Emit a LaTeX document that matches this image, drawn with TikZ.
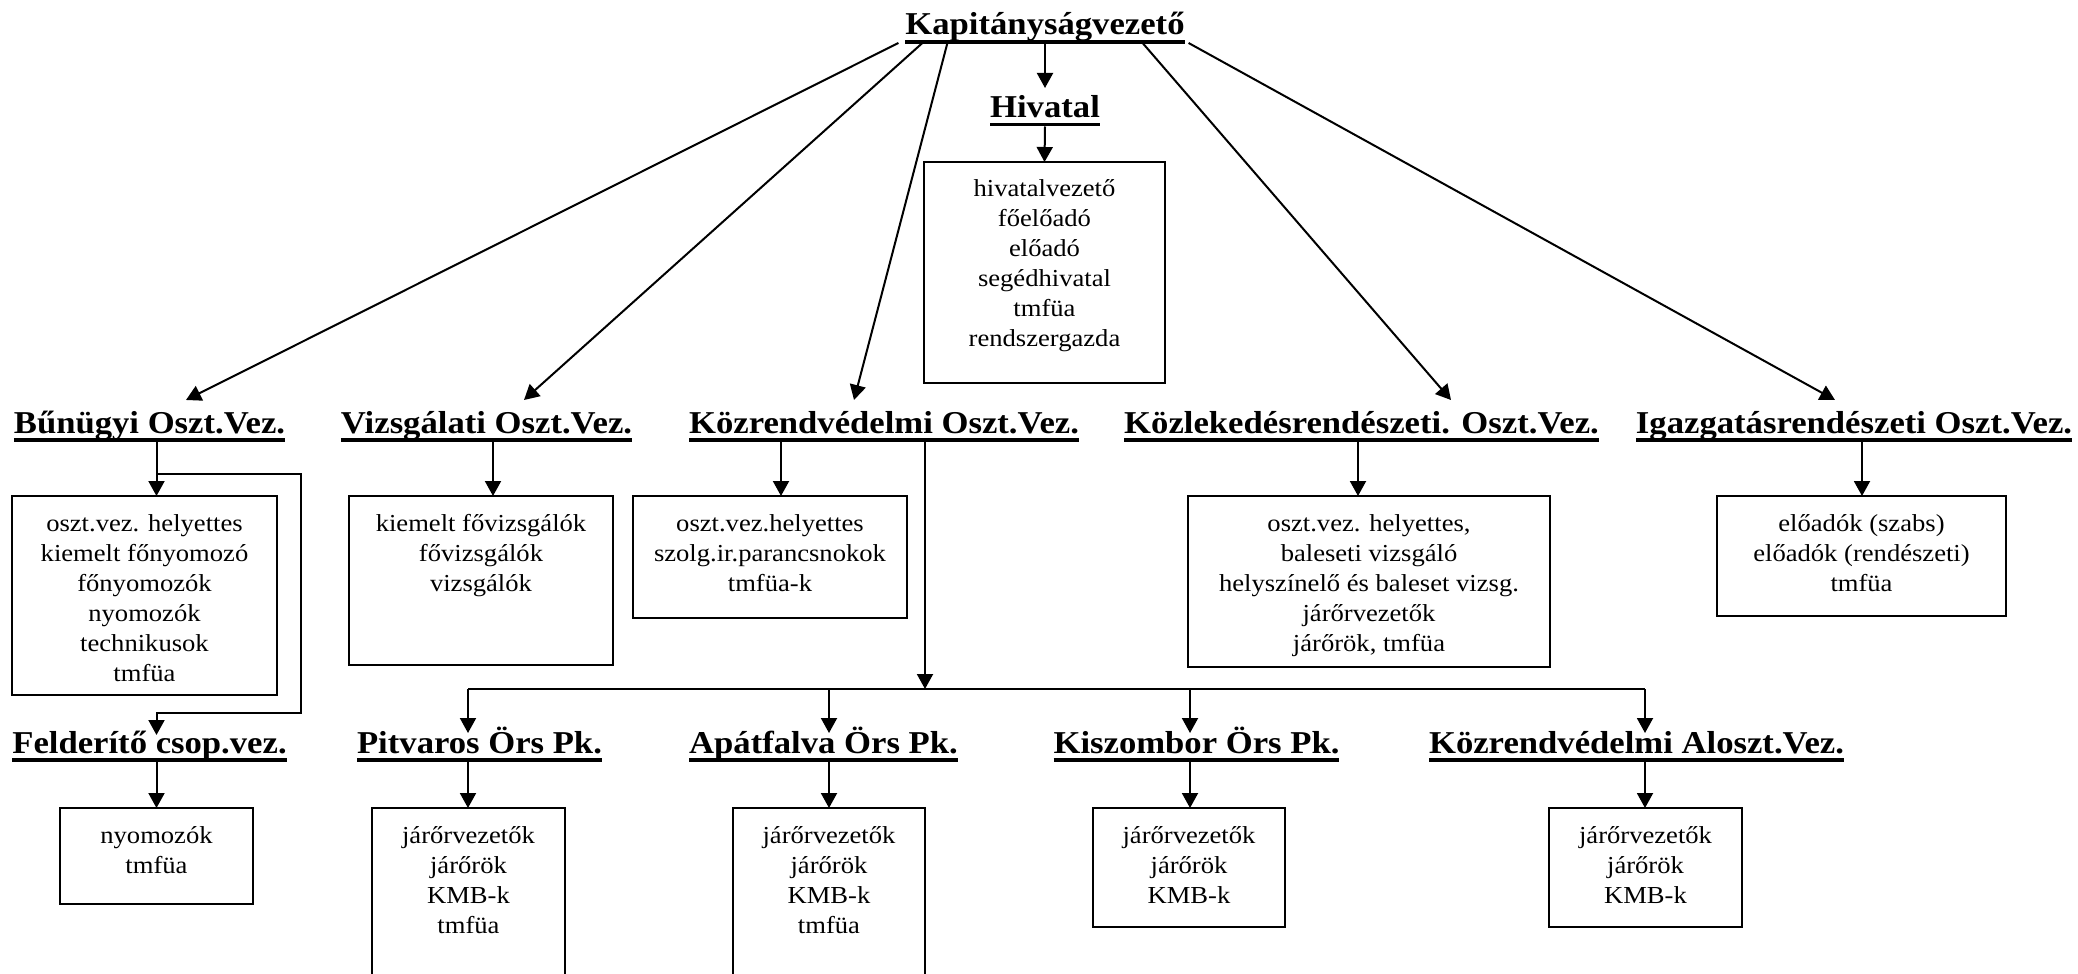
\documentclass[tikz,border=0pt]{standalone}
\usepackage{fontspec}
\usetikzlibrary{arrows.meta,calc,fit}
\newfontfamily\bodyf[FakeStretch=1.09]{Liberation Serif}
\newfontfamily\headf[FakeStretch=1.09]{Liberation Serif}
\tikzset{
  head/.style={font=\headf\bfseries\fontsize{15.9}{18}\selectfont, inner sep=0pt, outer sep=0pt,
               text height=16.5pt, text depth=4.5pt, anchor=base},
  box/.style={draw, line width=1pt, inner sep=0pt, outer sep=0pt},
  txt/.style={inner sep=0pt, outer sep=0pt, anchor=base, font=\bodyf\fontsize{12.2}{15}\selectfont},
  arr/.style={-{Triangle[length=7.5pt,width=8pt]}, line width=1pt},
  con/.style={line width=1pt},
  ul/.style={line width=1.65pt}
}
\begin{document}
\begin{tikzpicture}[x=0.5pt,y=-0.5pt]
\fill[white] (0,0) rectangle (2078,974);
\clip (0,0) rectangle (2078,974);
% headings
\node[head] (kap) at (1045,35) {Kapitányságvezető};
\node[head] (hiv) at (1045,117.5) {Hivatal};
\node[head] (bun) at (149.5,433) {Bűnügyi Oszt.Vez.};
\node[head] (viz) at (486.5,433) {Vizsgálati Oszt.Vez.};
\node[head] (koz) at (884,433) {Közrendvédelmi Oszt.Vez.};
\node[head] (kzl) at (1361.5,433) {Közlekedésrendészeti. Oszt.Vez.};
\node[head] (ig) at (1854,433) {Igazgatásrendészeti Oszt.Vez.};
\node[head] (fel) at (149.5,753) {Felderítő csop.vez.};
\node[head] (pit) at (479.5,753) {Pitvaros Örs Pk.};
\node[head] (apa) at (823.5,753) {Apátfalva Örs Pk.};
\node[head] (kis) at (1196.5,753) {Kiszombor Örs Pk.};
\node[head] (alo) at (1636.5,753) {Közrendvédelmi Aloszt.Vez.};
\foreach \n in {kap,hiv,bun,viz,koz,kzl,ig,fel,pit,apa,kis,alo}
  \draw[ul] ($(\n.base west)+(0,7)$) -- ($(\n.base east)+(0,7)$);
% boxes
\node[box, fit={(924,162) (1165,383)}] (hivbox) {};
\node[box, fit={(12,496) (277,695)}] (bunbox) {};
\node[box, fit={(349,496) (613,665)}] (vizbox) {};
\node[box, fit={(633,496) (907,618)}] (kozbox) {};
\node[box, fit={(1188,496) (1550,667)}] (kzlbox) {};
\node[box, fit={(1717,496) (2006,616)}] (igbox) {};
\node[box, fit={(60,808) (253,904)}] (felbox) {};
\node[box, fit={(372,808) (565,1000)}] (pitbox) {};
\node[box, fit={(733,808) (925,1000)}] (apabox) {};
\node[box, fit={(1093,808) (1285,927)}] (kisbox) {};
\node[box, fit={(1549,808) (1742,927)}] (alobox) {};
% box texts
\node[txt] (hivtxt) at ($(hivbox.north)+(0,35)$) {\parbox[t]{120pt}{\centering hivatalvezető\\főelőadó\\előadó\\segédhivatal\\tmfüa\\rendszergazda}};
\node[txt] (buntxt) at ($(bunbox.north)+(0,35)$) {\parbox[t]{132pt}{\centering oszt.vez. helyettes\\kiemelt főnyomozó\\főnyomozók\\nyomozók\\technikusok\\tmfüa}};
\node[txt] (viztxt) at ($(vizbox.north)+(0,35)$) {\parbox[t]{132pt}{\centering kiemelt fővizsgálók\\fővizsgálók\\vizsgálók}};
\node[txt] (koztxt) at ($(kozbox.north)+(0,35)$) {\parbox[t]{137pt}{\centering oszt.vez.helyettes\\szolg.ir.parancsnokok\\tmfüa-k}};
\node[txt] (kzltxt) at ($(kzlbox.north)+(0,35)$) {\parbox[t]{181pt}{\centering oszt.vez. helyettes,\\baleseti vizsgáló\\helyszínelő és baleset vizsg.\\járőrvezetők\\járőrök, tmfüa}};
\node[txt] (igtxt) at ($(igbox.north)+(0,35)$) {\parbox[t]{144pt}{\centering előadók (szabs)\\előadók (rendészeti)\\tmfüa}};
\node[txt] (feltxt) at ($(felbox.north)+(0,35)$) {\parbox[t]{96pt}{\centering nyomozók\\tmfüa}};
\node[txt] (pittxt) at ($(pitbox.north)+(0,35)$) {\parbox[t]{96pt}{\centering járőrvezetők\\járőrök\\KMB-k\\tmfüa}};
\node[txt] (apatxt) at ($(apabox.north)+(0,35)$) {\parbox[t]{96pt}{\centering járőrvezetők\\járőrök\\KMB-k\\tmfüa}};
\node[txt] (kistxt) at ($(kisbox.north)+(0,35)$) {\parbox[t]{96pt}{\centering járőrvezetők\\járőrök\\KMB-k}};
\node[txt] (alotxt) at ($(alobox.north)+(0,35)$) {\parbox[t]{96pt}{\centering járőrvezetők\\járőrök\\KMB-k}};
% helper coordinates
\coordinate (xa) at (156.5,0);
\coordinate (xv) at (493,0);
\coordinate (xk) at (781,0);
\coordinate (xl) at (1358,0);
\coordinate (xg) at (1862,0);
\coordinate (xb) at (925,0);
\coordinate (br1) at (301,474);
\coordinate (br2) at (156.5,713);
\coordinate (barL) at (468,689);
\coordinate (barR) at (1645,689);
\coordinate (xp2) at (829,0);
\coordinate (xp3) at (1190,0);
% top connectors
\draw[arr] ($(kap.south west)+(-7,-1)$) -- ($(bun.base)+(36.5,-33)$);
\draw[arr] ($(kap.south west)+(17,-1)$) -- ($(viz.base)+(37.5,-33)$);
\draw[arr] ($(kap.south west)+(42,-1)$) -- ($(koz.base)+(-30,-33)$);
\draw[arr] ($(kap.south east)+(-42,-1)$) -- ($(kzl.base)+(89.5,-33)$);
\draw[arr] ($(kap.south east)+(4,-1)$) -- ($(ig.base)+(-19,-33)$);
\draw[arr] (kap.south) -- ($(hiv.base)+(0,-29.5)$);
\draw[arr] (hiv.south) -- (hivbox.north);
% row 2 downs
\draw[arr] (bun.south -| xa) -- (bunbox.north -| xa);
\draw[arr] (viz.south -| xv) -- (vizbox.north -| xv);
\draw[arr] (koz.south -| xk) -- (kozbox.north -| xk);
\draw[arr] (kzl.south -| xl) -- (kzlbox.north -| xl);
\draw[arr] (ig.south -| xg) -- (igbox.north -| xg);
% Bunugyi branch to Felderito
\draw[arr] (bun.south -| xa) |- (br1) |- (br2) -- ($(fel.base -| xa)+(0,-18)$);
\draw[arr] (fel.south -| xa) -- (felbox.north -| xa);
% Kozrend branch
\draw[arr] (koz.south -| xb) -- (barL -| xb);
\draw[con] (barL) -- (barR);
\draw[arr] (barL) -- ($(pit.base -| barL)+(0,-20)$);
\draw[arr] (barL -| xp2) -- ($(apa.base -| xp2)+(0,-20)$);
\draw[arr] (barL -| xp3) -- ($(kis.base -| xp3)+(0,-20)$);
\draw[arr] (barR) -- ($(alo.base -| barR)+(0,-20)$);
% row 4 downs
\draw[arr] (pit.south -| barL) -- (pitbox.north -| barL);
\draw[arr] (apa.south -| xp2) -- (apabox.north -| xp2);
\draw[arr] (kis.south -| xp3) -- (kisbox.north -| xp3);
\draw[arr] (alo.south -| barR) -- (alobox.north -| barR);
\end{tikzpicture}
\end{document}
